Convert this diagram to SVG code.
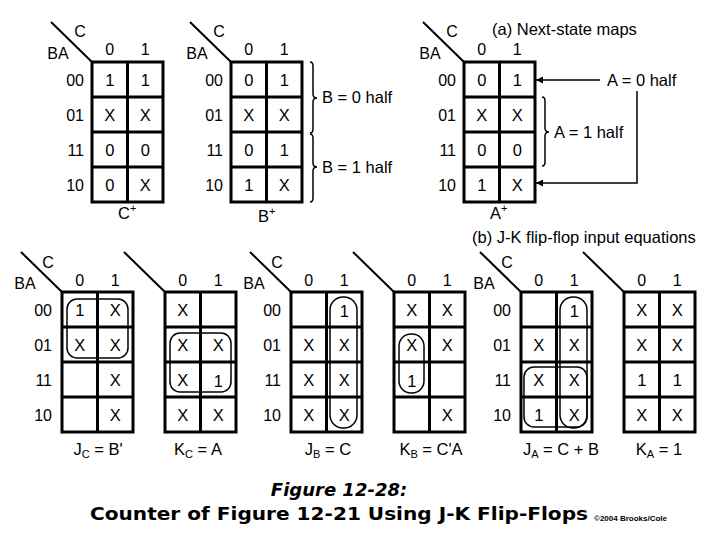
<svg xmlns="http://www.w3.org/2000/svg" xmlns:xlink="http://www.w3.org/1999/xlink" width="720" height="540" viewBox="0 0 720 540">
<defs>
<style>
text{font-family:"Liberation Sans",Arial,sans-serif;fill:#000}
.v{font-size:16.5px;text-anchor:middle}
.r{font-size:16px;text-anchor:end}
.c{font-size:16px;text-anchor:middle}
.l{font-size:16.5px}
.g{fill:none;stroke:#000;stroke-width:3}
.d{stroke:#000;stroke-width:2}
.loop{fill:none;stroke:#000;stroke-width:1.5}
.thin{fill:none;stroke:#000;stroke-width:1.5}
.cap{font-family:"DejaVu Sans",Verdana,sans-serif;font-weight:bold;font-size:18px}
</style>
<g id="grid" class="g">
<rect x="0" y="0" width="71" height="140"/>
<line x1="35.5" y1="0" x2="35.5" y2="140"/>
<line x1="0" y1="35" x2="71" y2="35"/>
<line x1="0" y1="70" x2="71" y2="70"/>
<line x1="0" y1="105" x2="71" y2="105"/>
</g>
<marker id="ah" viewBox="0 0 10 10" refX="10" refY="5" markerWidth="9" markerHeight="7" markerUnits="userSpaceOnUse" orient="auto">
<path d="M0,0 L10,5 L0,10 z" fill="#000"/>
</marker>
</defs>
<rect width="720" height="540" fill="#fff"/>

<g id="map-cplus">
<line class="d" x1="51" y1="22" x2="92" y2="62"/>
<use xlink:href="#grid" x="92" y="62"/>
<text class="c" x="80" y="37">C</text>
<text class="c" x="58" y="59">BA</text>
<text class="c" x="109.75" y="55">0</text><text class="c" x="145.25" y="55">1</text>
<text class="r" x="84" y="85.5">00</text><text class="r" x="84" y="120.5">01</text><text class="r" x="84" y="155.5">11</text><text class="r" x="84" y="190.5">10</text>
<text class="v" x="109.75" y="85.5">1</text><text class="v" x="145.25" y="85.5">1</text>
<text class="v" x="109.75" y="120.5">X</text><text class="v" x="145.25" y="120.5">X</text>
<text class="v" x="109.75" y="155.5">0</text><text class="v" x="145.25" y="155.5">0</text>
<text class="v" x="109.75" y="190.5">0</text><text class="v" x="145.25" y="190.5">X</text>
<text class="l" x="118" y="219">C<tspan font-size="11" dy="-7">+</tspan></text>
</g>

<g id="map-bplus">
<line class="d" x1="190" y1="22" x2="231" y2="62"/>
<use xlink:href="#grid" x="231" y="62"/>
<text class="c" x="219" y="37">C</text>
<text class="c" x="197" y="59">BA</text>
<text class="c" x="248.75" y="55">0</text><text class="c" x="284.25" y="55">1</text>
<text class="r" x="223" y="85.5">00</text><text class="r" x="223" y="120.5">01</text><text class="r" x="223" y="155.5">11</text><text class="r" x="223" y="190.5">10</text>
<text class="v" x="248.75" y="85.5">0</text><text class="v" x="284.25" y="85.5">1</text>
<text class="v" x="248.75" y="120.5">X</text><text class="v" x="284.25" y="120.5">X</text>
<text class="v" x="248.75" y="155.5">0</text><text class="v" x="284.25" y="155.5">1</text>
<text class="v" x="248.75" y="190.5">1</text><text class="v" x="284.25" y="190.5">X</text>
<text class="l" x="258" y="222">B<tspan font-size="11" dy="-7">+</tspan></text>
</g>

<g id="map-aplus">
<line class="d" x1="423" y1="22" x2="464" y2="62"/>
<use xlink:href="#grid" x="464" y="62"/>
<text class="c" x="452" y="37">C</text>
<text class="c" x="430" y="59">BA</text>
<text class="c" x="481.75" y="55">0</text><text class="c" x="517.25" y="55">1</text>
<text class="r" x="456" y="85.5">00</text><text class="r" x="456" y="120.5">01</text><text class="r" x="456" y="155.5">11</text><text class="r" x="456" y="190.5">10</text>
<text class="v" x="481.75" y="85.5">0</text><text class="v" x="517.25" y="85.5">1</text>
<text class="v" x="481.75" y="120.5">X</text><text class="v" x="517.25" y="120.5">X</text>
<text class="v" x="481.75" y="155.5">0</text><text class="v" x="517.25" y="155.5">0</text>
<text class="v" x="481.75" y="190.5">1</text><text class="v" x="517.25" y="190.5">X</text>
<text class="l" x="490" y="219">A<tspan font-size="11" dy="-7">+</tspan></text>
</g>

<g id="labels-a">
<text class="l" x="492" y="35">(a) Next-state maps</text>
<text class="l" x="322" y="103">B = 0 half</text>
<text class="l" x="322" y="173">B = 1 half</text>
<text class="l" x="607" y="86">A = 0 half</text>
<text class="l" x="554" y="138">A = 1 half</text>
<text class="l" x="472" y="243">(b) J-K flip-flop input equations</text>
</g>

<g id="connectors">
<path class="thin" d="M310,62 Q313,62 313,66 L313,94 Q313,98 317,98 Q313,98 313,102 L313,129 Q313,133 310,133"/>
<path class="thin" d="M310,134 Q313,134 313,138 L313,163 Q313,167 317,167 Q313,167 313,171 L313,198 Q313,202 310,202"/>
<path class="thin" d="M542,97 Q545,97 545,101 L545,128 Q545,132 549,132 Q545,132 545,136 L545,162 Q545,166 542,166"/>
<line class="thin" x1="600" y1="80" x2="536" y2="80" marker-end="url(#ah)"/>
<polyline class="thin" points="637,91 637,183 536,183" marker-end="url(#ah)"/>
</g>

<g id="map-jc">
<line class="d" x1="21" y1="252" x2="62" y2="292"/>
<use xlink:href="#grid" x="62" y="292"/>
<text class="c" x="48" y="268">C</text>
<text class="c" x="25" y="289">BA</text>
<text class="c" x="79.75" y="286">0</text><text class="c" x="115.25" y="286">1</text>
<text class="r" x="52" y="315.5">00</text><text class="r" x="52" y="350.5">01</text><text class="r" x="52" y="385.5">11</text><text class="r" x="52" y="420.5">10</text>
<text class="v" x="79.75" y="315.5">1</text><text class="v" x="115.25" y="315.5">X</text>
<text class="v" x="79.75" y="350.5">X</text><text class="v" x="115.25" y="350.5">X</text>
<text class="v" x="115.25" y="385.5">X</text>
<text class="v" x="115.25" y="420.5">X</text>
<rect class="loop" x="67" y="299" width="61" height="59" rx="10"/>
<text class="v" x="98" y="455">J<tspan font-size="11" dy="3">C</tspan><tspan dy="-3"> = B'</tspan></text>
</g>

<g id="map-kc">
<line class="d" x1="124" y1="252" x2="165" y2="292"/>
<use xlink:href="#grid" x="165" y="292"/>
<text class="c" x="182.75" y="286">0</text><text class="c" x="218.25" y="286">1</text>
<text class="v" x="182.75" y="315.5">X</text>
<text class="v" x="182.75" y="350.5">X</text><text class="v" x="218.25" y="350.5">X</text>
<text class="v" x="182.75" y="385.5">X</text><text class="v" x="218.25" y="387">1</text>
<text class="v" x="182.75" y="420.5">X</text><text class="v" x="218.25" y="420.5">X</text>
<rect class="loop" x="170" y="333" width="61" height="59" rx="10"/>
<text class="v" x="198" y="455">K<tspan font-size="11" dy="3">C</tspan><tspan dy="-3"> = A</tspan></text>
</g>

<g id="map-jb">
<line class="d" x1="250" y1="252" x2="291" y2="292"/>
<use xlink:href="#grid" x="291" y="292"/>
<text class="c" x="277" y="268">C</text>
<text class="c" x="254" y="289">BA</text>
<text class="c" x="308.75" y="286">0</text><text class="c" x="344.25" y="286">1</text>
<text class="r" x="281" y="315.5">00</text><text class="r" x="281" y="350.5">01</text><text class="r" x="281" y="385.5">11</text><text class="r" x="281" y="420.5">10</text>
<text class="v" x="344.25" y="317">1</text>
<text class="v" x="308.75" y="350.5">X</text><text class="v" x="344.25" y="350.5">X</text>
<text class="v" x="308.75" y="385.5">X</text><text class="v" x="344.25" y="385.5">X</text>
<text class="v" x="308.75" y="420.5">X</text><text class="v" x="344.25" y="420.5">X</text>
<rect class="loop" x="330" y="297" width="27" height="131" rx="13"/>
<text class="v" x="328" y="455">J<tspan font-size="11" dy="3">B</tspan><tspan dy="-3"> = C</tspan></text>
</g>

<g id="map-kb">
<line class="d" x1="353" y1="252" x2="394" y2="292"/>
<use xlink:href="#grid" x="394" y="292"/>
<text class="c" x="411.75" y="286">0</text><text class="c" x="447.25" y="286">1</text>
<text class="v" x="411.75" y="315.5">X</text><text class="v" x="447.25" y="315.5">X</text>
<text class="v" x="411.75" y="350.5">X</text><text class="v" x="447.25" y="350.5">X</text>
<text class="v" x="411.75" y="387">1</text>
<text class="v" x="447.25" y="420.5">X</text>
<rect class="loop" x="399" y="334" width="25" height="59" rx="12"/>
<text class="v" x="431" y="455">K<tspan font-size="11" dy="3">B</tspan><tspan dy="-3"> = C'A</tspan></text>
</g>

<g id="map-ja">
<line class="d" x1="480" y1="252" x2="521" y2="292"/>
<use xlink:href="#grid" x="521" y="292"/>
<text class="c" x="507" y="268">C</text>
<text class="c" x="484" y="289">BA</text>
<text class="c" x="538.75" y="286">0</text><text class="c" x="574.25" y="286">1</text>
<text class="r" x="511" y="315.5">00</text><text class="r" x="511" y="350.5">01</text><text class="r" x="511" y="385.5">11</text><text class="r" x="511" y="420.5">10</text>
<text class="v" x="574.25" y="317">1</text>
<text class="v" x="538.75" y="350.5">X</text><text class="v" x="574.25" y="350.5">X</text>
<text class="v" x="538.75" y="385.5">X</text><text class="v" x="574.25" y="385.5">X</text>
<text class="v" x="538.75" y="421">1</text><text class="v" x="574.25" y="420.5">X</text>
<rect class="loop" x="560" y="297" width="27" height="131" rx="13"/>
<rect class="loop" x="524" y="367" width="63" height="60" rx="10"/>
<text class="v" x="561" y="455">J<tspan font-size="11" dy="3">A</tspan><tspan dy="-3"> = C + B</tspan></text>
</g>

<g id="map-ka">
<line class="d" x1="583" y1="252" x2="624" y2="292"/>
<use xlink:href="#grid" x="624" y="292"/>
<text class="c" x="641.75" y="286">0</text><text class="c" x="677.25" y="286">1</text>
<text class="v" x="641.75" y="315.5">X</text><text class="v" x="677.25" y="315.5">X</text>
<text class="v" x="641.75" y="350.5">X</text><text class="v" x="677.25" y="350.5">X</text>
<text class="v" x="641.75" y="385.5">1</text><text class="v" x="677.25" y="385.5">1</text>
<text class="v" x="641.75" y="420.5">X</text><text class="v" x="677.25" y="420.5">X</text>
<text class="v" x="659" y="455">K<tspan font-size="11" dy="3">A</tspan><tspan dy="-3"> = 1</tspan></text>
</g>

<g id="caption">
<text class="cap" x="339" y="496" text-anchor="middle" font-style="italic">Figure 12-28:</text>
<text class="cap" x="90" y="520" textLength="498" lengthAdjust="spacingAndGlyphs">Counter of Figure 12-21 Using J-K Flip-Flops</text>
<text x="594" y="521" font-size="7" font-weight="bold" textLength="73" lengthAdjust="spacingAndGlyphs">©2004 Brooks/Cole</text>
</g>
</svg>
